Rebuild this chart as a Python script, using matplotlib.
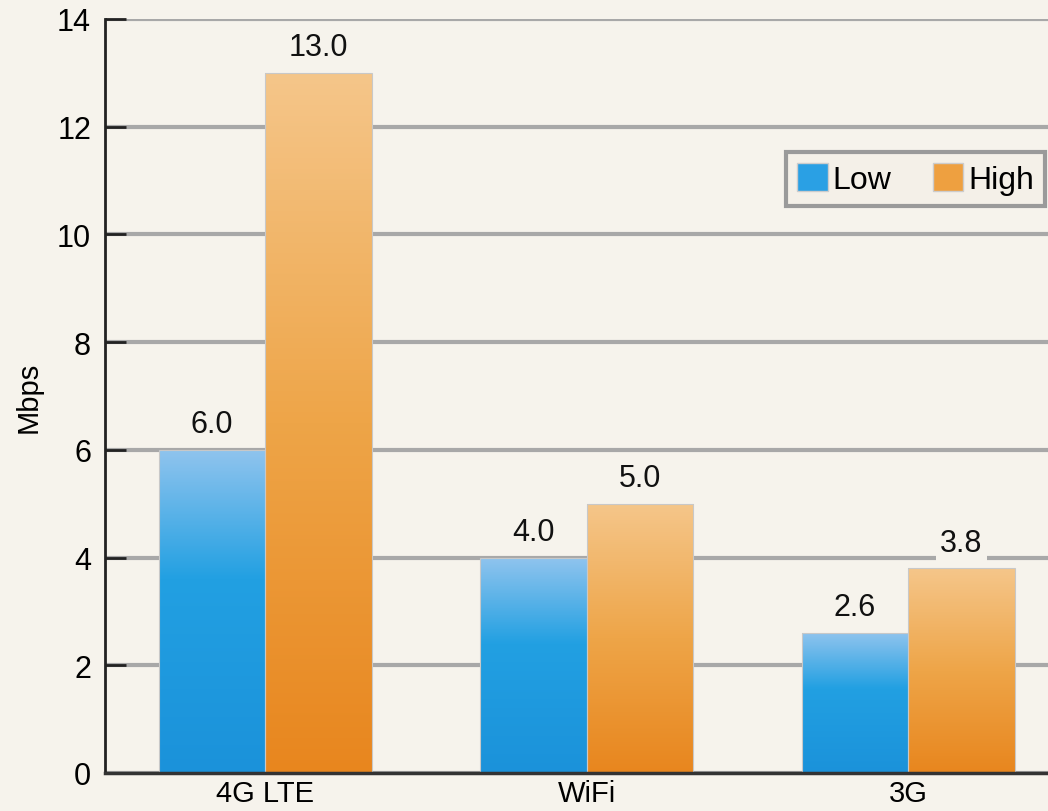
import numpy as np
import matplotlib
matplotlib.use("Agg")
import matplotlib.pyplot as plt
from matplotlib.colors import LinearSegmentedColormap
from matplotlib.patches import Patch

categories = ["4G LTE", "WiFi", "3G"]
low_values = [6.0, 4.0, 2.6]
high_values = [13.0, 5.0, 3.8]
series_names = ["Low", "High"]
y_ticks = [0, 2, 4, 6, 8, 10, 12, 14]

plt.rcParams['font.family'] = ['Liberation Sans', 'DejaVu Sans']

BG = "#f6f3ec"
fig = plt.figure(figsize=(10.48, 8.12), dpi=100, facecolor=BG)
ax = fig.add_axes([0.1002, 0.0468, 0.8998, 0.9286])
ax.set_facecolor(BG)

blue_cmap = LinearSegmentedColormap.from_list(
    "blue", [(0.0, "#1b92da"), (0.6, "#22a0e2"), (1.0, "#90c4ee")])
orange_cmap = LinearSegmentedColormap.from_list(
    "orange", [(0.0, "#e8861e"), (0.5, "#eea548"), (1.0, "#f5c68a")])

x = np.arange(len(categories))
w = 0.331
grad = np.linspace(0, 1, 256).reshape(-1, 1)

def gradient_bars(xs, vals, cmap):
    bars = ax.bar(xs, vals, width=w, color="none", edgecolor="#c8c8c8",
                  linewidth=0.8, zorder=3)
    for b, v in zip(bars, vals):
        x0 = b.get_x()
        im = ax.imshow(grad, extent=[x0, x0 + w, 0, v], origin="lower",
                       cmap=cmap, aspect="auto", zorder=2.5,
                       interpolation="bicubic")
        im.set_clip_path(b)
    return bars

gradient_bars(x - w / 2, low_values, blue_cmap)
gradient_bars(x + w / 2, high_values, orange_cmap)

for xs, vals in ((x - w / 2, low_values), (x + w / 2, high_values)):
    for xi, v in zip(xs, vals):
        ax.text(xi, v + 0.2, f"{v:.1f}", ha="center", va="bottom",
                fontsize=22, color="#111111", zorder=4,
                bbox=dict(boxstyle="square,pad=0.15", fc=BG, ec="none"))

ax.set_xlim(-0.498, 2.435)
ax.set_ylim(0, 14)
ax.set_yticks(y_ticks)
ax.set_yticklabels([str(t) for t in y_ticks], fontsize=22)
ax.set_xticks(x)
ax.set_xticklabels(categories, fontsize=21)
ax.tick_params(axis="y", direction="in", length=15, width=2, color="#222222", pad=10)
ax.tick_params(axis="x", length=0, pad=4)
ax.yaxis.grid(True, color="#a8a8a8", linewidth=3)
ax.set_axisbelow(True)
for s in ("top", "right"):
    ax.spines[s].set_visible(False)
ax.spines["left"].set_linewidth(2)
ax.spines["left"].set_color("#222222")
ax.spines["bottom"].set_linewidth(2.5)
ax.spines["bottom"].set_color("#333333")
ax.spines["bottom"].set_zorder(5)
ax.set_ylabel("Mbps", fontsize=21)
ax.yaxis.set_label_coords(-0.066, 0.5)

handles = [Patch(facecolor="#2aa0e4", edgecolor="#cccccc"),
           Patch(facecolor="#eea040", edgecolor="#cccccc")]
leg = ax.legend(handles, series_names, loc="center right",
                bbox_to_anchor=(0.997, 0.788), fontsize=23, ncol=2,
                frameon=True, fancybox=False, handlelength=0.95,
                handleheight=0.95, handletextpad=0.15, columnspacing=1.3,
                borderpad=0.35, borderaxespad=0)
leg.get_frame().set_edgecolor("#9a9a9a")
leg.get_frame().set_linewidth(3)
leg.get_frame().set_facecolor("#f4f0e8")
leg.get_frame().set_alpha(1)

fig.savefig("out.png", dpi=100, facecolor=BG)
